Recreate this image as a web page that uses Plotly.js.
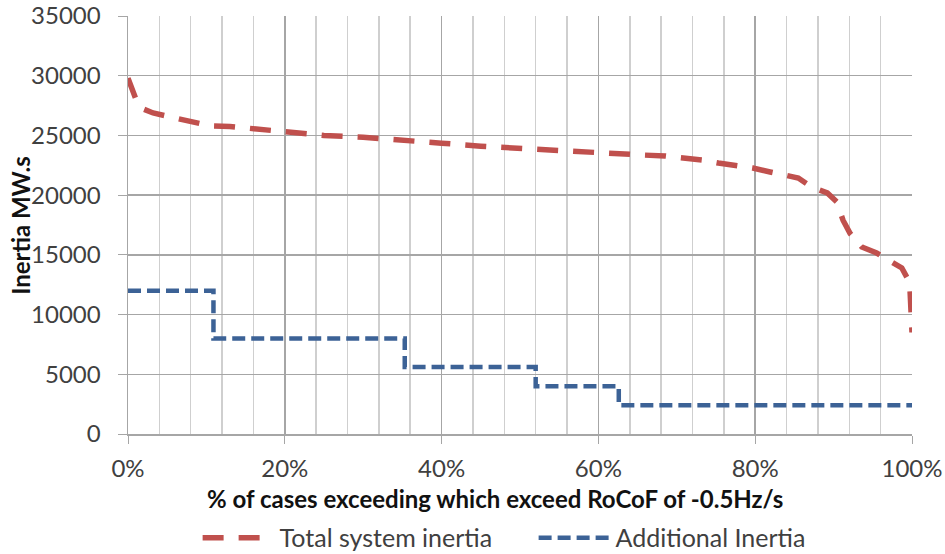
<!DOCTYPE html>
<html>
<head>
<meta charset="utf-8">
<script src="https://cdn.plot.ly/plotly-3.0.1.min.js"></script>
<style>html,body{margin:0;padding:0;background:#fff;}#chart{width:945px;height:554px;}</style>
</head>
<body>
<div id="chart"></div>
<script>
// Total system inertia (fraction of cases, MW.s)
const totalX = [0, 0.006, 0.012, 0.02, 0.032, 0.06, 0.081, 0.105, 0.13, 0.15, 0.172, 0.2, 0.22, 0.25, 0.3, 0.35, 0.4, 0.45, 0.5, 0.55, 0.6, 0.634, 0.656, 0.685, 0.71, 0.732, 0.753, 0.777, 0.797, 0.819, 0.84, 0.855, 0.872, 0.892, 0.904, 0.912, 0.921, 0.936, 0.955, 0.97, 0.987, 0.997, 1.0];
const totalY = [29800, 28700, 27700, 27200, 26880, 26460, 26120, 25800, 25750, 25620, 25540, 25350, 25200, 25000, 24850, 24550, 24350, 24100, 23900, 23800, 23550, 23450, 23360, 23280, 23110, 22940, 22690, 22520, 22270, 21940, 21690, 21430, 20680, 20180, 19430, 17900, 16800, 15660, 15150, 14570, 13900, 12700, 8500];
// Additional inertia (step)
const addX = [0, 0.109, 0.353, 0.52, 0.626, 1.0];
const addY = [12000, 8000, 5600, 4000, 2400, 2400];
const seriesNames = ["Total system inertia", "Additional Inertia"];
const xTitle = "% of cases exceeding which exceed RoCoF of -0.5Hz/s";
const yTitle = "Inertia MW.s";

const FONT = "Lato, 'Open Sans', sans-serif";
const traces = [
  {x: totalX, y: totalY, name: seriesNames[0], type: 'scatter', mode: 'lines',
   line: {color: '#C0504D', width: 5.5, dash: '21px,15px'}},
  {x: addX, y: addY, name: seriesNames[1], type: 'scatter', mode: 'lines',
   line: {color: '#3C6296', width: 4.5, dash: '13px,6px', shape: 'hv'}}
];
const layout = {
  width: 945, height: 554,
  margin: {l: 128, r: 33, t: 16, b: 120, autoexpand: false},
  paper_bgcolor: '#fff', plot_bgcolor: '#fff',
  font: {family: FONT, size: 24, color: '#404040'},
  showlegend: true,
  legend: {orientation: 'h', xref: 'paper', x: 0.0888, xanchor: 'left',
           yref: 'container', y: 0.029, yanchor: 'middle',
           font: {family: FONT, size: 25, color: '#404040'}, itemwidth: 72,
           entrywidth: 249, entrywidthmode: 'pixels', traceorder: 'normal'},
  xaxis: {range: [0, 1], dtick: 0.2, tick0: 0, tickformat: '.0%',
          showgrid: true, gridcolor: '#a6a6a6', gridwidth: 1.5,
          showline: true, linecolor: '#a6a6a6', linewidth: 1.5,
          ticks: 'outside', ticklen: 8, tickcolor: '#a6a6a6', ticklabelstandoff: 5,
          minor: {dtick: 0.04, showgrid: true, gridcolor: '#cfcfcf', gridwidth: 1.5, ticks: ''},
          zeroline: false, fixedrange: true, automargin: false},
  yaxis: {range: [0, 35000], dtick: 5000, tick0: 0, tickformat: 'd',
          showgrid: true, gridcolor: '#a6a6a6', gridwidth: 1.5,
          showline: true, linecolor: '#a6a6a6', linewidth: 1.5,
          ticks: 'outside', ticklen: 9, tickcolor: '#a6a6a6', ticklabelstandoff: 12,
          zeroline: false, fixedrange: true, automargin: false},
  annotations: [
    {text: '<b>' + xTitle + '</b>', xref: 'paper', yref: 'paper', x: 0.468, y: -0.1555,
     xanchor: 'center', yanchor: 'middle', showarrow: false,
     font: {family: FONT, size: 24, color: '#111'}},
    {text: '<b>' + yTitle + '</b>', xref: 'paper', yref: 'paper', x: -0.138, y: 0.5,
     xanchor: 'center', yanchor: 'middle', showarrow: false, textangle: -90,
     font: {family: FONT, size: 24, color: '#111'}}
  ]
};
Plotly.newPlot('chart', traces, layout, {displayModeBar: false, staticPlot: true});
</script>
</body>
</html>
